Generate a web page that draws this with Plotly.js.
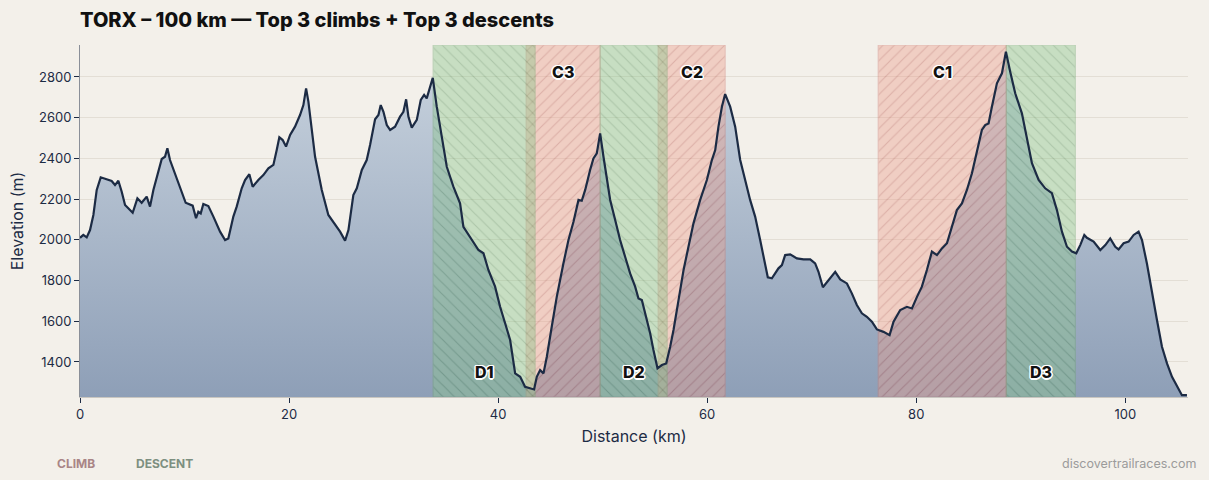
<!DOCTYPE html>
<html>
<head>
<meta charset="utf-8">
<script src="https://cdn.plot.ly/plotly-3.0.1.min.js"></script>
<style>
  html, body { margin: 0; padding: 0; background: #f3f0ea; }
  #chart { width: 1209px; height: 480px; }
</style>
</head>
<body>
<div id="chart"></div>
<script>
// ---- Elevation profile ----
const distKm = [
  0.0, 0.32, 0.64, 0.96, 1.28, 1.6, 1.98, 2.55, 3.03, 3.35, 3.67, 3.99, 4.31, 4.62, 5.04, 5.49, 5.9, 6.38, 6.7, 7.02,
  7.34, 7.82, 8.13, 8.36, 8.61, 9.09, 9.57, 10.11, 10.78, 11.1, 11.32, 11.55, 11.8, 12.28, 12.76, 13.4, 13.88, 14.19, 14.67, 14.99,
  15.47, 15.79, 16.2, 16.52, 17.06, 17.54, 18.02, 18.5, 18.82, 19.07, 19.39, 19.71, 20.1, 20.57, 21.05, 21.37, 21.63, 21.85, 22.49, 23.13,
  23.76, 24.24, 24.88, 25.36, 25.68, 26.15, 26.48, 26.96, 27.43, 27.75, 28.23, 28.55, 28.77, 29.03, 29.35, 29.67, 30.14, 30.62, 30.94, 31.2,
  31.42, 31.74, 32.22, 32.6, 32.92, 33.17, 33.43, 33.75, 34.13, 34.61, 35.09, 35.72, 36.36, 36.68, 37.32, 38.12, 38.6, 39.07, 39.71, 40.19,
  40.67, 41.15, 41.63, 42.11, 42.58, 43.06, 43.44, 43.7, 44.02, 44.34, 44.66, 45.13, 45.61, 46.25, 46.73, 47.21, 47.69, 48.0, 48.33, 48.8,
  49.12, 49.44, 49.76, 50.08, 50.4, 50.72, 51.2, 51.67, 52.15, 52.63, 53.11, 53.43, 53.75, 54.07, 54.55, 54.86, 55.25, 55.67, 56.08, 56.46,
  56.78, 57.26, 57.74, 58.21, 58.69, 59.33, 59.97, 60.45, 60.77, 61.08, 61.41, 61.72, 62.2, 62.68, 63.16, 64.11, 64.59, 65.07, 65.8, 66.19,
  66.82, 67.15, 67.46, 67.94, 68.58, 69.22, 69.86, 70.33, 70.65, 71.07, 71.61, 72.25, 72.73, 73.37, 73.84, 74.32, 74.8, 75.28, 75.76, 76.24,
  76.87, 77.45, 77.83, 78.47, 79.11, 79.59, 80.07, 80.54, 81.02, 81.5, 81.98, 82.46, 82.94, 83.41, 83.89, 84.37, 84.85, 85.33, 85.81, 86.28,
  86.6, 86.92, 87.24, 87.72, 88.2, 88.58, 88.99, 89.47, 90.11, 90.59, 91.07, 91.71, 92.34, 92.98, 93.46, 93.94, 94.42, 94.9, 95.31, 95.69,
  96.08, 96.33, 96.97, 97.61, 98.09, 98.56, 99.04, 99.36, 99.84, 100.32, 100.8, 101.27, 101.6, 102.07, 102.55, 103.03, 103.51, 103.99, 104.47, 104.95,
  105.42, 105.9
];
const elevM = [
  2010, 2024, 2012, 2048, 2122, 2245, 2307, 2299, 2289, 2269, 2290, 2236, 2171, 2155, 2133, 2204, 2182, 2212, 2163, 2245,
  2310, 2397, 2408, 2450, 2392, 2327, 2253, 2182, 2168, 2106, 2138, 2130, 2176, 2166, 2114, 2040, 1999, 2007, 2114, 2163,
  2253, 2294, 2322, 2261, 2294, 2318, 2351, 2368, 2441, 2504, 2490, 2458, 2515, 2556, 2613, 2662, 2744, 2679, 2408, 2245,
  2122, 2089, 2040, 1996, 2048, 2220, 2253, 2343, 2392, 2466, 2592, 2613, 2662, 2629, 2564, 2540, 2556, 2605, 2629, 2690,
  2605, 2551, 2589, 2687, 2712, 2695, 2736, 2796, 2654, 2507, 2359, 2261, 2179, 2064, 2015, 1950, 1934, 1852, 1770, 1671,
  1590, 1508, 1344, 1327, 1278, 1270, 1265, 1327, 1360, 1344, 1426, 1573, 1720, 1885, 1999, 2089, 2196, 2192, 2245, 2343,
  2400, 2425, 2523, 2408, 2294, 2196, 2097, 1999, 1917, 1835, 1770, 1712, 1704, 1639, 1540, 1459, 1369, 1385, 1393, 1475,
  1557, 1704, 1852, 1966, 2081, 2196, 2294, 2392, 2441, 2556, 2654, 2716, 2654, 2556, 2392, 2196, 2114, 1999, 1816, 1811,
  1860, 1876, 1925, 1929, 1909, 1904, 1904, 1884, 1843, 1767, 1802, 1843, 1806, 1786, 1737, 1680, 1639, 1622, 1598, 1560,
  1548, 1532, 1598, 1655, 1671, 1663, 1720, 1770, 1852, 1942, 1925, 1958, 1983, 2064, 2146, 2179, 2245, 2327, 2441, 2540,
  2564, 2572, 2654, 2769, 2818, 2924, 2826, 2720, 2621, 2507, 2376, 2294, 2253, 2229, 2146, 2040, 1966, 1942, 1934, 1974,
  2024, 2010, 1991, 1950, 1974, 2007, 1966, 1953, 1983, 1991, 2024, 2040, 1999, 1884, 1737, 1606, 1475, 1393, 1327, 1278,
  1237, 1237
];

// ---- Top climbs / descents ----
const segLabels = ['C3', 'C2', 'C1', 'D1', 'D2', 'D3'];
const segKinds  = ['climb', 'climb', 'climb', 'descent', 'descent', 'descent'];
const segStartKm = [42.68, 55.31, 76.36, 33.78, 49.76, 88.61];
const segEndKm   = [49.76, 61.72, 88.61, 43.54, 56.17, 95.22];

// ---- Axis ticks ----
const xTicks = [0, 20, 40, 60, 80, 100];
const yTicks = [1400, 1600, 1800, 2000, 2200, 2400, 2600, 2800];

// ---- styling ----
const Y_RANGE = [1228, 2957];
const X_RANGE = [0, 106];
const BG = '#f3f0ea';
const INK = '#1c2b44';
const FONT = 'Inter, "Open Sans", sans-serif';

const kindStyle = {
  climb:   { bg: 'rgb(236,160,142)', fg: 'rgb(185,80,70)', edge: 'rgb(205,120,110)', shape: '/' },
  descent: { bg: 'rgb(140,198,140)', fg: 'rgb(70,135,75)',  edge: 'rgb(110,165,110)', shape: '\\' }
};

const traces = [];

// area fill with vertical gradient
traces.push({
  type: 'scatter', mode: 'none', x: distKm, y: elevM,
  fill: 'tozeroy',
  fillgradient: {
    type: 'vertical',
    start: Y_RANGE[0], stop: 2800,
    colorscale: [[0, '#8e9fb7'], [1, '#c4cfdb']]
  },
  hoverinfo: 'skip', showlegend: false
});

// climbs / descents hatched bands
segLabels.forEach((lab, i) => {
  const st = kindStyle[segKinds[i]];
  const a = segStartKm[i], b = segEndKm[i];
  traces.push({
    type: 'scatter', mode: 'lines',
    x: [a, a, b, b, a],
    y: [Y_RANGE[0], Y_RANGE[1], Y_RANGE[1], Y_RANGE[0], Y_RANGE[0]],
    fill: 'toself',
    fillcolor: st.bg,
    fillpattern: { shape: st.shape, bgcolor: st.bg, fgcolor: st.fg, fgopacity: 0.9, size: 8, solidity: 0.14 },
    line: { color: st.edge, width: 1 },
    opacity: 0.42,
    hoverinfo: 'skip', showlegend: false, name: lab
  });
});

// profile line
traces.push({
  type: 'scatter', mode: 'lines', x: distKm, y: elevM,
  line: { color: INK, width: 2.2 },
  hoverinfo: 'skip', showlegend: false
});

const outline = '1.5px 0 0 #fff, -1.5px 0 0 #fff, 0 1.5px 0 #fff, 0 -1.5px 0 #fff, 1px 1px 0 #fff, -1px -1px 0 #fff, 1px -1px 0 #fff, -1px 1px 0 #fff';

const annotations = segLabels.map((lab, i) => ({
  x: (segStartKm[i] + segEndKm[i]) / 2,
  xref: 'x',
  y: segKinds[i] === 'climb' ? 0.923 : 0.071,
  yref: 'paper',
  text: lab,
  showarrow: false,
  xanchor: 'center', yanchor: 'middle',
  font: { family: FONT, size: 16, color: '#111', weight: 800, shadow: outline }
}));

annotations.push(
  { xref: 'paper', yref: 'paper', x: -0.0226, y: -0.1875, xanchor: 'left', yanchor: 'middle',
    text: 'CLIMB', showarrow: false, font: { family: FONT, size: 12, color: '#a98586', weight: 700 } },
  { xref: 'paper', yref: 'paper', x: 0.0487, y: -0.1875, xanchor: 'left', yanchor: 'middle',
    text: 'DESCENT', showarrow: false, font: { family: FONT, size: 12, color: '#7d8f80', weight: 700 } },
  { xref: 'paper', yref: 'paper', x: 1.0090, y: -0.1875, xanchor: 'right', yanchor: 'middle',
    text: 'discovertrailraces.com', showarrow: false, font: { family: FONT, size: 12.5, color: '#9b9b9b' } }
);

const layout = {
  width: 1209, height: 480,
  paper_bgcolor: BG, plot_bgcolor: BG,
  margin: { l: 80, r: 21, t: 45, b: 83 },
  title: {
    text: 'TORX – 100 km — Top 3 climbs + Top 3 descents',
    x: 80 / 1209, xanchor: 'left', xref: 'container',
    y: 1 - 20 / 480, yanchor: 'middle', yref: 'container',
    font: { family: FONT, size: 20, color: '#111', weight: 800 }
  },
  xaxis: {
    range: X_RANGE, tickvals: xTicks, showgrid: false, zeroline: false,
    showline: true, linecolor: '#c9c6c0', linewidth: 1,
    ticks: 'outside', ticklen: 5, tickcolor: INK,
    tickfont: { family: FONT, size: 13, color: INK },
    title: { text: 'Distance (km)', standoff: 10, font: { family: FONT, size: 16, color: INK } },
    fixedrange: true
  },
  yaxis: {
    range: Y_RANGE, tickvals: yTicks, showgrid: true, gridcolor: '#e3ded5', gridwidth: 1,
    zeroline: false, showline: true, linecolor: '#8a8f98', linewidth: 1,
    ticks: 'outside', ticklen: 5, tickcolor: INK,
    tickfont: { family: FONT, size: 13, color: INK },
    title: { text: 'Elevation (m)', standoff: 11, font: { family: FONT, size: 16, color: INK } },
    fixedrange: true
  },
  annotations: annotations,
  showlegend: false
};

Plotly.newPlot('chart', traces, layout, { displayModeBar: false, staticPlot: true });
</script>
</body>
</html>
